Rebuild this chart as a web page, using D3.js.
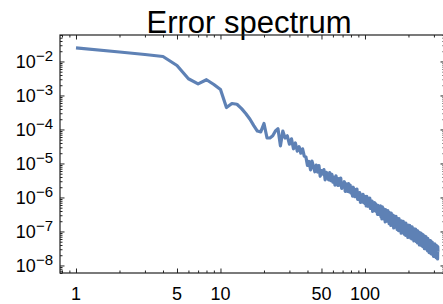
<!DOCTYPE html>
<html>
<head>
<meta charset="utf-8">
<script src="https://cdn.jsdelivr.net/npm/d3@7"></script>
<style>
  body { margin: 0; background: #fff; }
  text { font-family: "Liberation Sans", Arial, sans-serif; fill: #000; }
</style>
</head>
<body>
<div id="main"></div>
<script>
var ctx = { w: 443, h: 304, left: 60, right: 445, top: 35, bottom: 273 };

var titleText = "Error spectrum";
// labelled ticks on the bottom axis, unlabelled minor ones
var xMajor = [1, 5, 10, 50, 100];
var xMinor = [0.8, 0.9, 2, 3, 4, 6, 7, 8, 9, 20, 30, 40, 60, 70, 80, 90, 200, 300];
// powers of ten labelled on the left axis
var yExponents = [-2, -3, -4, -5, -6, -7, -8];

// error for mode k = 1, 2, 3 ...
var errHead = [
  2.5e-2, 1.9e-2, 1.6e-2, 1.4e-2, 7.6e-3, 3.1e-3, 2.2e-3, 2.9e-3, 2.1e-3, 1.5e-3,
  4.4e-4, 5.8e-4, 5.5e-4, 4.1e-4, 2.9e-4, 2.0e-4, 1.3e-4, 9.0e-5, 8.5e-5, 1.5e-4,
  5.6e-5, 5.6e-5, 6.5e-5, 9.0e-5, 1.05e-4, 3.3e-5, 9.0e-5, 5.6e-5, 6.5e-5, 3.7e-5,
  5.3e-5, 2.7e-5, 4.0e-5, 2.3e-5, 3.1e-5, 2.0e-5, 2.7e-5, 1.65e-5
];
// k = 39 .. 127
var errMid = [
  1.56e-5, 8.8e-6, 1.15e-5, 6.5e-6, 1.17e-5, 8.1e-6, 5.7e-6, 8.9e-6, 5.6e-6, 8.7e-6,
  4.2e-6, 6.2e-6, 4.9e-6, 6.6e-6, 3.3e-6, 5.5e-6, 4.2e-6, 3.3e-6, 5.4e-6, 3.1e-6,
  4.8e-6, 2.8e-6, 3.9e-6, 2.3e-6, 4.3e-6, 3.1e-6, 2.25e-6, 3.6e-6, 2.3e-6, 3.7e-6,
  1.85e-6, 2.65e-6, 2.1e-6, 2.9e-6, 1.5e-6, 2.5e-6, 1.95e-6, 1.5e-6, 2.55e-6, 1.45e-6,
  2.3e-6, 1.35e-6, 1.85e-6, 1.1e-6, 2.0e-6, 1.45e-6, 1.05e-6, 1.7e-6, 1.1e-6, 1.75e-6,
  8.7e-7, 1.3e-6, 1.0e-6, 1.4e-6, 7.1e-7, 1.2e-6, 9.3e-7, 7.4e-7, 1.23e-6, 7.0e-7,
  1.1e-6, 6.6e-7, 9.3e-7, 5.6e-7, 1.07e-6, 7.6e-7, 5.5e-7, 9.0e-7, 6.0e-7, 9.5e-7,
  4.75e-7, 7.0e-7, 5.6e-7, 7.8e-7, 3.9e-7, 6.8e-7, 5.2e-7, 4.2e-7, 7.0e-7, 4.0e-7,
  6.4e-7, 3.8e-7, 5.3e-7, 3.15e-7, 5.9e-7, 4.3e-7, 3.15e-7, 5.1e-7, 3.4e-7
];
// k = 128 .. 320
var errTail = [
  5.7e-7, 2.7e-7, 4.8e-7, 2.35e-7, 5.25e-7, 3.1e-7, 2.35e-7, 4.6e-7, 2.45e-7, 3.85e-7,
  1.9e-7, 4.4e-7, 3.0e-7, 2.0e-7, 3.9e-7, 2.0e-7, 4.1e-7, 2.15e-7, 3.3e-7, 1.7e-7,
  3.6e-7, 1.7e-7, 3.1e-7, 1.5e-7, 3.45e-7, 2.05e-7, 1.6e-7, 3.1e-7, 1.6e-7, 2.5e-7,
  1.27e-7, 2.9e-7, 2.0e-7, 1.33e-7, 2.55e-7, 1.33e-7, 2.8e-7, 1.45e-7, 2.2e-7, 1.14e-7,
  2.45e-7, 1.17e-7, 2.15e-7, 1.05e-7, 2.4e-7, 1.4e-7, 1.07e-7, 2.1e-7, 1.1e-7, 1.75e-7,
  8.9e-8, 2.05e-7, 1.4e-7, 9.4e-8, 1.85e-7, 9.6e-8, 1.98e-7, 1.04e-7, 1.6e-7, 8.3e-8,
  1.8e-7, 8.5e-8, 1.56e-7, 7.7e-8, 1.75e-7, 1.04e-7, 8.0e-8, 1.57e-7, 8.3e-8, 1.31e-7,
  6.7e-8, 1.54e-7, 1.05e-7, 7.1e-8, 1.39e-7, 7.3e-8, 1.5e-7, 7.9e-8, 1.23e-7, 6.4e-8,
  1.39e-7, 6.6e-8, 1.21e-7, 6.0e-8, 1.37e-7, 8.1e-8, 6.2e-8, 1.23e-7, 6.5e-8, 1.03e-7,
  5.3e-8, 1.2e-7, 8.2e-8, 5.5e-8, 1.08e-7, 5.7e-8, 1.17e-7, 6.2e-8, 9.5e-8, 5.0e-8,
  1.07e-7, 5.1e-8, 9.4e-8, 4.6e-8, 1.05e-7, 6.2e-8, 4.8e-8, 9.4e-8, 5.0e-8, 7.9e-8,
  4.0e-8, 9.3e-8, 6.3e-8, 4.2e-8, 8.2e-8, 4.4e-8, 9.0e-8, 4.7e-8, 7.4e-8, 3.8e-8,
  8.3e-8, 4.0e-8, 7.3e-8, 3.6e-8, 8.1e-8, 4.9e-8, 3.7e-8, 7.3e-8, 3.9e-8, 6.1e-8,
  3.1e-8, 7.25e-8, 4.9e-8, 3.3e-8, 6.5e-8, 3.4e-8, 7.0e-8, 3.7e-8, 5.6e-8, 3.0e-8,
  6.4e-8, 3.1e-8, 5.6e-8, 2.7e-8, 6.3e-8, 3.7e-8, 2.9e-8, 5.6e-8, 3.0e-8, 4.7e-8,
  2.4e-8, 5.5e-8, 3.8e-8, 2.5e-8, 5.0e-8, 2.6e-8, 5.4e-8, 2.8e-8, 4.4e-8, 2.2e-8,
  4.9e-8, 2.35e-8, 4.3e-8, 2.15e-8, 4.9e-8, 2.9e-8, 2.2e-8, 4.3e-8, 2.3e-8, 3.7e-8,
  1.86e-8, 4.35e-8, 3.0e-8, 2.0e-8, 3.9e-8, 2.1e-8, 4.3e-8, 2.25e-8, 3.5e-8, 1.8e-8,
  3.9e-8, 1.9e-8, 3.5e-8, 1.7e-8, 3.9e-8, 2.35e-8, 1.8e-8, 3.6e-8, 1.9e-8, 3.0e-8,
  1.55e-8, 3.6e-8, 2.5e-8
];

var errors = errHead.concat(errMid, errTail);
var points = errors.map(function(v, i){ return {k: i + 1, v: v}; });

var svg = d3.select("#main").append("svg")
  .attr("width", ctx.w).attr("height", ctx.h);

var x = d3.scaleLog().domain([0.775, 358]).range([ctx.left, ctx.right]);
var y = d3.scaleLog().domain([6.0e-9, 6.0e-2]).range([ctx.bottom, ctx.top]);

// minor y ticks: 2..9 times each power of ten
var yMinor = y.ticks().filter(function(t){
  var m = t / Math.pow(10, Math.floor(Math.log10(t) + 1e-9));
  return Math.round(m) !== 1;
});
var yMajor = yExponents.map(function(e){ return Math.pow(10, e); });

// title
svg.append("text")
  .attr("x", 249).attr("y", 33)
  .attr("text-anchor", "middle")
  .style("font-size", "31px")
  .text(titleText);

// data line
svg.append("clipPath").attr("id", "clip")
  .append("rect")
  .attr("x", ctx.left).attr("y", ctx.top)
  .attr("width", ctx.right - ctx.left).attr("height", ctx.bottom - ctx.top);

svg.append("path")
  .datum(points)
  .attr("clip-path", "url(#clip)")
  .attr("fill", "none")
  .attr("stroke", "#5e81b5")
  .attr("stroke-width", 3.2)
  .attr("stroke-linejoin", "round")
  .attr("d", d3.line().x(function(d){ return x(d.k); }).y(function(d){ return y(d.v); }));

// ticks on all four sides, pointing inwards
var axes = svg.append("g").attr("class", "axes");
function tickAxis(axisFn, scale, values, size, transform){
  var g = axes.append("g")
    .attr("transform", transform)
    .call(axisFn(scale).tickValues(values).tickSize(-size).tickSizeOuter(0).tickFormat(""));
  g.select(".domain").remove();
  g.selectAll("line").attr("stroke", "#222");
}
tickAxis(d3.axisBottom, x, xMajor, 4.5, "translate(0," + ctx.bottom + ")");
tickAxis(d3.axisBottom, x, xMinor, 2.5, "translate(0," + ctx.bottom + ")");
tickAxis(d3.axisTop, x, xMajor, 4.5, "translate(0," + ctx.top + ")");
tickAxis(d3.axisTop, x, xMinor, 2.5, "translate(0," + ctx.top + ")");
tickAxis(d3.axisLeft, y, yMajor, 4.5, "translate(" + ctx.left + ",0)");
tickAxis(d3.axisLeft, y, yMinor, 2.5, "translate(" + ctx.left + ",0)");
tickAxis(d3.axisRight, y, yMajor, 4.5, "translate(" + ctx.right + ",0)");
tickAxis(d3.axisRight, y, yMinor, 2.5, "translate(" + ctx.right + ",0)");

// frame
svg.append("rect")
  .attr("x", ctx.left).attr("y", ctx.top)
  .attr("width", ctx.right - ctx.left).attr("height", ctx.bottom - ctx.top)
  .attr("fill", "none").attr("stroke", "#222").attr("stroke-width", 1.2);

// bottom labels
svg.append("g").selectAll("text")
  .data(xMajor).enter().append("text")
  .attr("x", function(d){ return x(d); })
  .attr("y", 299.5)
  .attr("text-anchor", "middle")
  .style("font-size", "18px")
  .text(function(d){ return d; });

// left labels: 10 with a superscript exponent
var yl = svg.append("g").selectAll("text")
  .data(yExponents).enter().append("text")
  .attr("x", 53)
  .attr("y", function(d){ return y(Math.pow(10, d)) + 6.3; })
  .attr("text-anchor", "end")
  .style("font-size", "18px");
yl.append("tspan").text("10");
yl.append("tspan").attr("dy", -7).style("font-size", "15px")
  .text(function(d){ return "\u2212" + Math.abs(d); });
</script>
</body>
</html>
